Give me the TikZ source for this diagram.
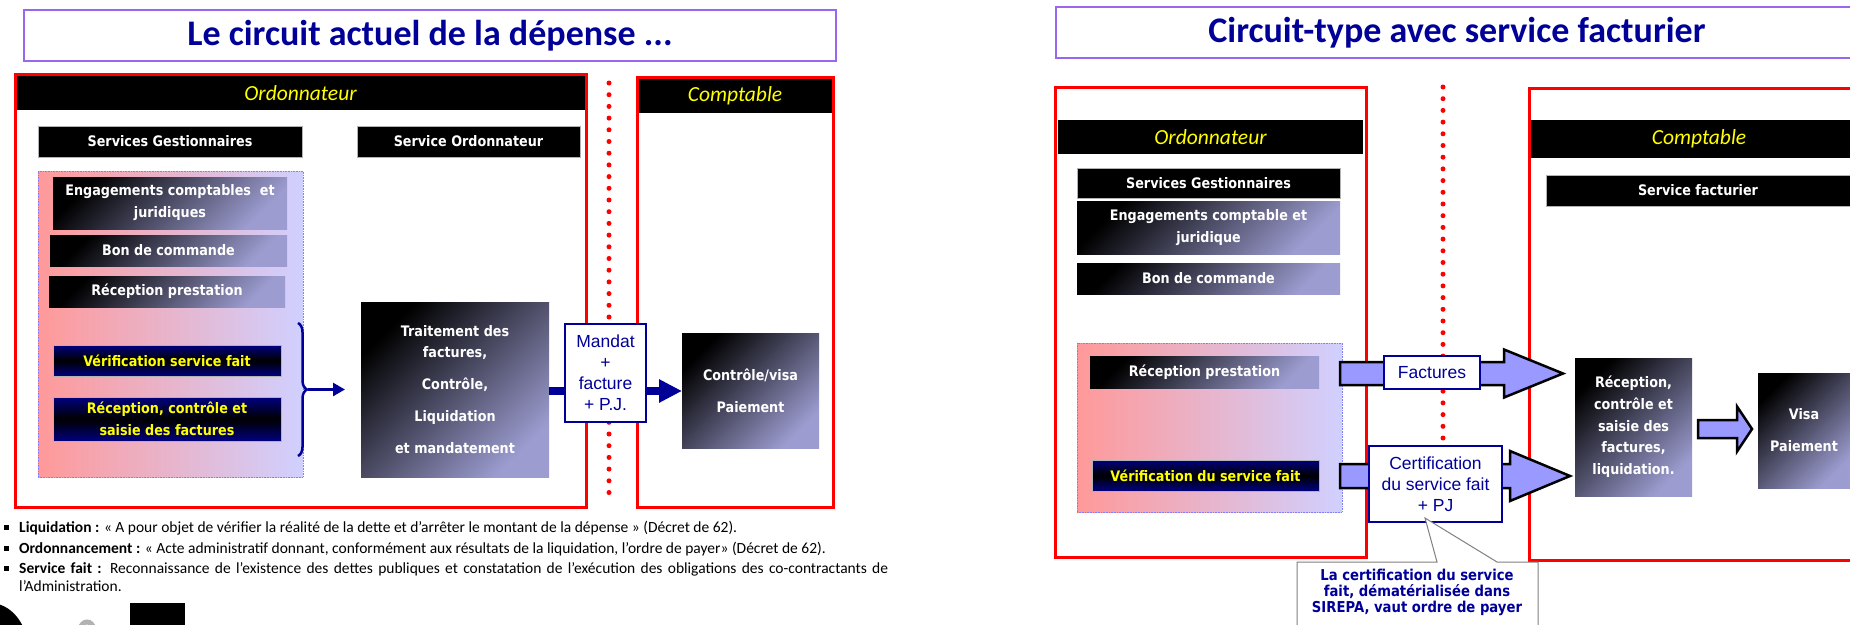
\documentclass[tikz,border=0pt]{standalone}
\usepackage{fontspec}
\setmainfont{Carlito}
\newfontfamily\tah{DejaVu Sans}[FakeStretch=0.88]
\newfontfamily\ari{Liberation Sans}
\usetikzlibrary{arrows.meta,decorations.pathreplacing,calc}
\definecolor{navy}{HTML}{000099}
\definecolor{lav}{HTML}{9C9CD0}
\definecolor{arrowfill}{HTML}{9999FF}
\definecolor{pinkl}{HTML}{FF9999}
\definecolor{lavl}{HTML}{D0D0FF}
\definecolor{purp}{HTML}{9966EE}
\definecolor{navb}{HTML}{000080}
\definecolor{yel}{HTML}{FFFF00}
\newcommand\bx[7]{\node[#6, minimum width={#4-#2}, minimum height={#5-#3}] (#1) at ({(#2+#4)/2},{(#3+#5)/2}) {#7};}
\newcommand\blockarr[5]{\draw[blockarrow] ($(#1)+(0,-#3)$) -- ($(#2)+(-#5,-#3)$) -- ($(#2)+(-#5,-#4)$) -- (#2) -- ($(#2)+(-#5,#4)$) -- ($(#2)+(-#5,#3)$) -- ($(#1)+(0,#3)$) -- cycle;}
\tikzset{
 base/.style={inner sep=0pt, outer sep=0pt, align=center},
 titlebox/.style={base, draw=purp, line width=1.2pt, fill=white, text=navy, font=\bfseries\fontsize{36}{40}\selectfont},
 redbox/.style={base, draw=red, line width=3pt, fill=white},
 hdr/.style={base, fill=black, text=yel, font=\itshape\fontsize{21.5}{24}\selectfont},
 blk/.style={base, fill=black, draw=gray!60, line width=0.6pt, text=white, font=\tah\bfseries\fontsize{14.5}{22}\selectfont},
 dk/.style={base, top color=black, bottom color=lav, shading angle=45, text=white, font=\tah\bfseries\fontsize{14.5}{22}\selectfont},
 nv/.style={base, top color=navb, bottom color=navb, middle color=black, draw=gray!60, line width=0.5pt, text=yel, font=\tah\bfseries\fontsize{14.5}{22}\selectfont},
 panel/.style={base, left color=pinkl, right color=lavl, draw=blue!50, densely dotted, line width=0.6pt},
 wbox/.style={base, fill=white, draw=navy, line width=1.5pt, text=navy, font=\ari\fontsize{17.5}{21}\selectfont},
 blockarrow/.style={fill=arrowfill, draw=black, line width=2.5pt, line join=miter},
 reddots/.style={draw=red, line width=5pt, line cap=round, dash pattern=on 0pt off 11.7pt},
 navyline/.style={draw=navy, line width=8pt},
 bodytext/.style={anchor=base west, inner sep=0pt, font=\fontsize{15.5}{18}\selectfont},
 bullet/.style={fill=black, minimum size=5pt, inner sep=0pt},
}
\begin{document}
\begin{tikzpicture}[x=1pt,y=-1pt]
\useasboundingbox (0,0) rectangle (1850,624);
\clip (0,0) rectangle (1850,624);
\fill[white] (0,0) rectangle (1850,624);
% ---------- left diagram ----------
\bx{t1}{24}{10}{836}{61}{titlebox}{Le circuit actuel de la dépense ...}
\bx{ordL}{15}{74}{586}{507}{redbox}{}
\bx{ordLh}{16.5}{75.5}{584.5}{110}{hdr}{Ordonnateur}
\bx{cptL}{637}{77}{833}{507}{redbox}{}
\bx{cptLh}{638.5}{78.5}{831.5}{113}{hdr}{Comptable}
\coordinate (dl1) at (609,83); \coordinate (dl2) at (609,501);
\draw[reddots] (dl1) -- (dl2);
\bx{sgL}{38}{126}{302}{157}{blk}{Services Gestionnaires}
\bx{soL}{357}{126}{580}{157}{blk}{Service Ordonnateur}
\bx{panL}{38}{171}{303}{477}{panel}{}
\bx{engL}{53}{177}{287}{229}{dk}{Engagements comptables\ \ et\\juridiques}
\bx{bcL}{50}{235}{287}{266}{dk}{Bon de commande}
\bx{rpL}{49}{276}{285}{307}{dk}{Réception prestation}
\bx{vsL}{53}{345}{281}{376}{nv}{Vérification service fait}
\bx{rcL}{53}{397}{281}{441}{nv}{Réception, contrôle et\\saisie des factures}
\bx{trL}{361}{302}{549}{477}{dk,font=\tah\bfseries\fontsize{14.5}{21}\selectfont}{Traitement des\\factures,\\[11pt]Contrôle,\\[11pt]Liquidation\\[11pt]et mandatement}
\bx{mdL}{565}{324}{646}{422}{wbox}{Mandat\\+\\facture\\+ P.J.}
\bx{cvL}{682}{333}{819}{448}{dk}{Contrôle/visa\\[10pt]Paiement}
\coordinate (bt) at (298,323); \coordinate (bb) at (298,456);
\draw[navy, line width=2.5pt, decorate, decoration={brace, amplitude=9pt}] (bt) -- (bb);
\coordinate (btip) at (308,389.5); \coordinate (bend) at (345,389.5);
\draw[navy, line width=2.5pt, -{Triangle[length=12pt,width=13pt]}] (btip) -- (bend);
\coordinate (ya) at (0,391);
\draw[navyline] (trL.east |- ya) -- (mdL.west |- ya);
\draw[navyline, -{Triangle[length=23pt,width=22pt]}] (mdL.east |- ya) -- (cvL.west |- ya);
% bottom text
\node[bullet] (b1) at (6.5,527) {};
\node[bullet] (b2) at (6.5,548) {};
\node[bullet] (b3) at (6.5,568) {};
\node[bodytext] (l1) at (19,532) {\textbf{Liquidation :} « A pour objet de vérifier la réalité de la dette et d’arrêter le montant de la dépense » (Décret de 62).};
\node[bodytext] (l2) at (19,553) {\textbf{Ordonnancement :} « Acte administratif donnant, conformément aux résultats de la liquidation, l’ordre de payer» (Décret de 62).};
\node[bodytext] (l3) at (19,573) {\makebox[869pt][s]{\textbf{Service fait :} Reconnaissance de l’existence des dettes publiques et constatation de l’exécution des obligations des co-contractants de}};
\node[bodytext] (l4) at (19,591) {l’Administration.};
% big letter fragments
\fill[black, even odd rule] (-10,650) ellipse [x radius=38, y radius=47] (-10,650) ellipse [x radius=17, y radius=30];
\draw[gray!60, line width=5pt] (81,628) arc[start angle=180, end angle=360, radius=6];
\fill[black] (130,603) rectangle (185,630);
% ---------- right diagram ----------
\bx{t2}{1056}{7}{1858}{58}{titlebox}{Circuit-type avec service facturier}
\bx{ordR}{1055}{87}{1366}{557}{redbox}{}
\bx{ordRh}{1058}{120}{1363}{154}{hdr}{Ordonnateur}
\bx{cptR}{1529}{88}{1880}{560}{redbox}{}
\bx{cptRh}{1531}{120}{1867}{158}{hdr}{Comptable}
\coordinate (dr1) at (1443,87); \coordinate (dr2) at (1443,530);
\draw[reddots] (dr1) -- (dr2);
\bx{sgR}{1077}{168}{1340}{198}{blk}{Services Gestionnaires}
\bx{engR}{1077}{201}{1340}{254}{dk}{Engagements comptable et\\juridique}
\bx{bcR}{1077}{263}{1340}{294}{dk}{Bon de commande}
\bx{panR}{1077}{343}{1342}{512}{panel}{}
\bx{rpR}{1090}{356}{1319}{388}{dk}{Réception prestation}
\bx{vsR}{1092}{460}{1319}{491}{nv}{Vérification du service fait}
\bx{sfR}{1546}{175}{1850}{206}{blk}{Service facturier}
\bx{rcR}{1575}{358}{1692}{496}{dk,font=\tah\bfseries\fontsize{14.5}{21.7}\selectfont}{Réception,\\contrôle et\\saisie des\\factures,\\liquidation.}
\bx{vpR}{1758}{373}{1850}{488}{dk}{Visa\\[10pt]Paiement}
\coordinate (fa1) at (1340,373.5); \coordinate (fa2) at (1563,373.5);
\blockarr{fa1}{fa2}{11.5}{24}{59}
\coordinate (ca1) at (1340,476); \coordinate (ca2) at (1570,476);
\blockarr{ca1}{ca2}{12}{25}{60}
\coordinate (ma1) at (1698,429); \coordinate (ma2) at (1752,429);
\blockarr{ma1}{ma2}{9}{22.5}{15}
\bx{facR}{1384}{356}{1480}{389}{wbox}{Factures}
\bx{cerR}{1369}{446}{1502}{522}{wbox}{Certification\\du service fait\\+ PJ}
\coordinate (ctip) at (1425,518);
\draw[gray, fill=white, line width=1pt] (1297,562) -- (1437,562) -- (ctip) -- (1497,562) -- (1538,562) -- (1538,700) -- (1297,700) -- cycle;
\node[base, text=navy, font=\tah\bfseries\fontsize{15}{16}\selectfont] (call) at (1417,592) {La certification du service\\fait, dématérialisée dans\\SIREPA, vaut ordre de payer};
\end{tikzpicture}
\end{document}
